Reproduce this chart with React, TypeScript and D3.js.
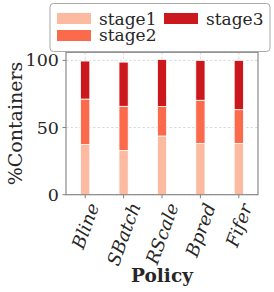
import React, { useEffect, useRef } from "react";
import * as d3 from "d3";

const categories = ["Bline", "SBatch", "RScale", "Bpred", "Fifer"];
const stageNames = ["stage1", "stage2", "stage3"];
const stage1 = [37.3, 32.9, 43.7, 38.1, 38.1];
const stage2 = [33.9, 32.9, 21.9, 32.2, 25.2];
const stage3 = [28.3, 32.9, 35.1, 29.7, 36.7];
const stageColors = ["#fcbba1", "#fb6a4a", "#cb181d"];
const yTicks = [0, 50, 100];

const W = 274;
const H = 292;
const SERIF = "'DejaVu Serif', serif";

export default function App() {
  const ref = useRef<SVGSVGElement | null>(null);

  useEffect(() => {
    const svg = d3.select(ref.current);
    svg.selectAll("*").remove();

    const left = 66, right = 258, top = 52.3, bottom = 194.7;
    const x = d3.scaleLinear().domain([-0.5, 4.5]).range([left, right]);
    const y = d3.scaleLinear().domain([0, 106]).range([bottom, top]);
    const barW = x(0.24) - x(0);

    const data = categories.map((c, i) => ({ c, i, s1: stage1[i], s2: stage2[i], s3: stage3[i] }));
    const stack = d3.stack<any>().keys(["s1", "s2", "s3"])(data as any);

    const g = svg.append("g");

    // grid
    g.selectAll(".hg").data(yTicks).enter().append("line")
      .attr("x1", left).attr("x2", right)
      .attr("y1", (d) => y(d)).attr("y2", (d) => y(d))
      .attr("stroke", "#d0d0d0").attr("stroke-width", 0.8).attr("stroke-dasharray", "2.5,2");
    g.selectAll(".vg").data(categories).enter().append("line")
      .attr("x1", (_d, i) => x(i)).attr("x2", (_d, i) => x(i))
      .attr("y1", top).attr("y2", bottom)
      .attr("stroke", "#d0d0d0").attr("stroke-width", 0.8).attr("stroke-dasharray", "2.5,2");

    // bars
    stack.forEach((layer, k) => {
      g.selectAll(".b" + k).data(layer).enter().append("rect")
        .attr("x", (_d, i) => x(i) - barW / 2)
        .attr("width", barW)
        .attr("y", (d: any) => y(d[1]))
        .attr("height", (d: any) => y(d[0]) - y(d[1]))
        .attr("fill", stageColors[k])
        .attr("stroke", "white")
        .attr("stroke-width", 0.8);
    });

    // spines
    g.append("rect")
      .attr("x", left).attr("y", top)
      .attr("width", right - left).attr("height", bottom - top)
      .attr("fill", "none").attr("stroke", "#808080").attr("stroke-width", 1.1);

    // y ticks
    yTicks.forEach((t) => {
      g.append("line").attr("x1", left - 3.5).attr("x2", left)
        .attr("y1", y(t)).attr("y2", y(t)).attr("stroke", "#808080").attr("stroke-width", 1);
      g.append("text").attr("x", left - 7).attr("y", y(t))
        .attr("text-anchor", "end").attr("dominant-baseline", "central")
        .attr("font-family", SERIF).attr("font-size", 17.5).attr("fill", "#262626")
        .text(String(t));
    });

    // x ticks and rotated labels
    const theta = 70;
    const rad = (theta * Math.PI) / 180;
    categories.forEach((c, i) => {
      const cx = x(i);
      g.append("line").attr("x1", cx).attr("x2", cx)
        .attr("y1", bottom).attr("y2", bottom + 3.5).attr("stroke", "#808080").attr("stroke-width", 1);
      const t = g.append("text")
        .attr("font-family", SERIF).attr("font-style", "italic")
        .attr("font-size", 18).attr("fill", "#262626")
        .attr("text-anchor", "middle").attr("dominant-baseline", "central")
        .text(c);
      const bb = (t.node() as SVGTextElement).getBBox();
      const L = bb.width;
      const h = bb.height * 0.75;
      const bh = L * Math.sin(rad) + h * Math.cos(rad);
      const cy = bottom + 6 + bh / 2;
      t.attr("transform", `translate(${cx},${cy}) rotate(${-theta})`);
    });

    // axis labels
    g.append("text")
      .attr("transform", `translate(22,${(top + bottom) / 2}) rotate(-90)`)
      .attr("text-anchor", "middle")
      .attr("font-family", SERIF).attr("font-size", 19).attr("fill", "#262626")
      .text("%Containers");
    g.append("text")
      .attr("x", (left + right) / 2).attr("y", 282)
      .attr("text-anchor", "middle")
      .attr("font-family", SERIF).attr("font-weight", "bold")
      .attr("font-size", 18.5).attr("fill", "#262626")
      .text("Policy");

    // legend
    const lg = svg.append("g");
    lg.append("rect").attr("x", 50).attr("y", 3.5).attr("width", 220).attr("height", 48)
      .attr("rx", 3.5).attr("fill", "white").attr("fill-opacity", 0.85)
      .attr("stroke", "#aaaaaa").attr("stroke-width", 1);
    const pos = [
      { px: 57, py: 13, tx: 99, ty: 25 },
      { px: 57, py: 30, tx: 99, ty: 40.5 },
      { px: 164, py: 13, tx: 206, ty: 25 },
    ];
    stageNames.forEach((s, k) => {
      const p = pos[k];
      lg.append("rect").attr("x", p.px).attr("y", p.py).attr("width", 34).attr("height", 11)
        .attr("fill", stageColors[k]);
      lg.append("text").attr("x", p.tx).attr("y", p.ty)
        .attr("font-family", SERIF).attr("font-size", 17).attr("fill", "#262626")
        .text(s);
    });
  }, []);

  return (
    <svg
      ref={ref}
      width={W}
      height={H}
      style={{ position: "absolute", left: 0, top: 0, background: "white" }}
    />
  );
}
